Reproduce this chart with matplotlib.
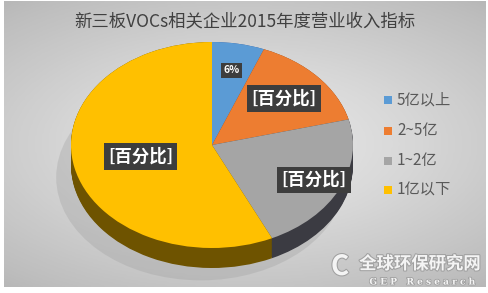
import numpy as np
import matplotlib
matplotlib.use("Agg")
from matplotlib import pyplot as plt
from matplotlib.patches import Ellipse, Rectangle
import matplotlib.patheffects as pe

plt.rcParams['font.family'] = ['Noto Sans CJK SC', 'DejaVu Sans']

title = "新三板VOCs相关企业2015年度营业收入指标"
categories = ["5亿以上", "2~5亿", "1~2亿", "1亿以下"]
values = [6, 15, 22, 57]
labels = ["6%", "[百分比]", "[百分比]", "[百分比]"]
colors = ["#5B9BD5", "#ED7D31", "#A5A5A5", "#FFC000"]
side_colors = ["#2f5597", "#843c0c", "#3b3b42", "#6e5300"]

W, H = 489, 293
fig = plt.figure(figsize=(W / 100, H / 100), dpi=100)
fig.patch.set_facecolor("white")

# background panel with soft radial gradient
bg = fig.add_axes([0.008, 0.02, 0.985, 0.975])
yy, xx = np.mgrid[-1:1:200j, -1:1:300j]
rr = np.sqrt((xx * 0.9) ** 2 + (yy * 1.1) ** 2)
bg.imshow(rr, cmap="Greys", vmin=-0.9, vmax=5.0, aspect="auto",
          extent=(0, 1, 0, 1), interpolation="bicubic")
bg.set_axis_off()

# pie axes in pixel-derived units: 1 unit = rx px horizontally, ry px vertically
cx, cy, rx, ry = 212, 145, 141, 103
depth = 20
ax = fig.add_axes([0, 0, 1, 1])
ax.patch.set_alpha(0)

# soft shadow
ax.add_patch(Ellipse((-0.08, -0.12 - depth / ry), 2.05, 2.0, color="#9a9a9a",
                     alpha=0.3, lw=0, zorder=0))

# side band built from stacked darker pies
for t in np.linspace(depth / ry, 0, 24):
    ax.pie(values, colors=side_colors, startangle=90, counterclock=False,
           center=(0, -t), radius=1, wedgeprops=dict(linewidth=0))

wedges, _ = ax.pie(values, colors=colors, startangle=90, counterclock=False,
                   radius=1, wedgeprops=dict(linewidth=0))

ax.set_aspect("auto")
ax.set_xlim((0 - cx) / rx, (W - cx) / rx)
ax.set_ylim(-(H - cy) / ry, cy / ry)
ax.set_axis_off()

# data labels in dark boxes
label_r = [0.74, 0.68, 0.8, 0.52]
for w, lab, r in zip(wedges, labels, label_r):
    ang = np.deg2rad((w.theta1 + w.theta2) / 2)
    small = lab == "6%"
    ax.text(r * np.cos(ang), r * np.sin(ang), lab, ha="center", va="center",
            color="white", fontsize=7.5 if small else 12.5,
            fontweight="bold",
            bbox=dict(boxstyle="square,pad=0.25", fc="#3d3d3d", ec="none"),
            zorder=5)

fig.text(0.5, 1 - 21 / H, title, ha="center", va="center", fontsize=12.5,
         color="#404040")

# legend
leg_y = [100, 131, 161, 190]
for cat, col, y in zip(categories, colors, leg_y):
    fig.patches.append(Rectangle((384 / W, 1 - (y + 4) / H), 8 / W, 8 / H,
                                 transform=fig.transFigure, fc=col, ec="none"))
    fig.text(397 / W, 1 - y / H, cat, ha="left", va="center", fontsize=11,
             color="#595959")

# watermark
fig.text(420 / W, 1 - 264 / H, "全球环保研究网", ha="center", va="center",
         fontsize=12.5, fontweight="bold", color="#f4f4f4",
         path_effects=[pe.withStroke(linewidth=1.5, foreground="#a0a0a0")])
fig.text(422 / W, 1 - 282 / H, "G E P   R e s e a r c h", ha="center",
         va="center", fontsize=6.5, fontweight="bold", family="DejaVu Serif",
         color="#f4f4f4",
         path_effects=[pe.withStroke(linewidth=1.2, foreground="#a0a0a0")])
fig.text(340 / W, 1 - 267 / H, "C", ha="center", va="center", fontsize=20,
         fontweight="bold", style="italic", color="#f4f4f4",
         path_effects=[pe.withStroke(linewidth=1.5, foreground="#a0a0a0")])

fig.savefig("out.png", dpi=100)
